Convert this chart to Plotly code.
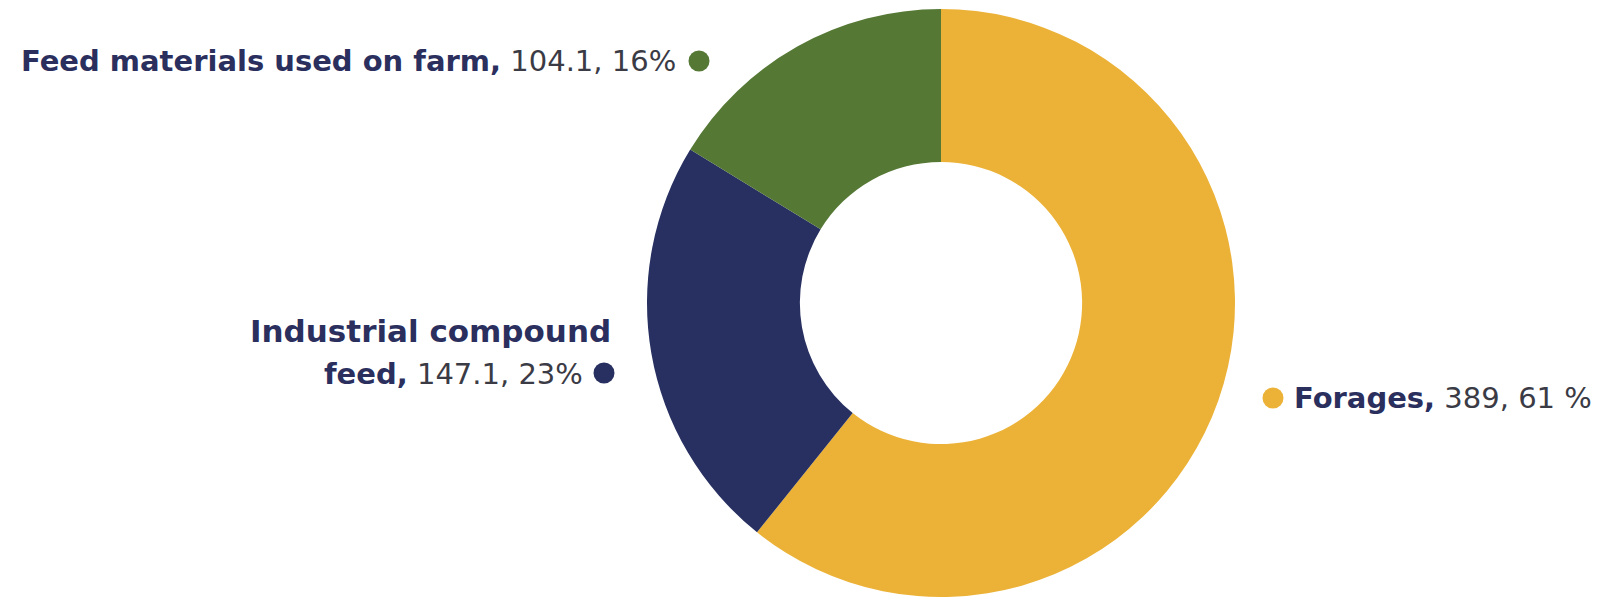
import plotly.graph_objects as go

categories = ["Forages", "Industrial compound feed", "Feed materials used on farm"]
values = [389, 147.1, 104.1]
percents = ["61 %", "23%", "16%"]
colors = ["#ECB237", "#273060", "#557935"]

W, H = 1601, 597
NAVY = "#2A2F5E"
GREY = "#3B3B45"
FONT = "DejaVu Sans"
FS = 29

fig = go.Figure()
fig.add_trace(go.Pie(
    labels=categories, values=values, hole=0.48, sort=False,
    direction="clockwise", rotation=0, textinfo="none",
    marker=dict(colors=colors, line=dict(width=0)),
    domain=dict(x=[647 / W, 1235 / W], y=[0, 588 / H]),
    showlegend=False, hoverinfo="label+value+percent",
))

def px(x):
    return x / W

def py(y):
    return 1 - y / H

def val_txt(i):
    return f"{values[i]:g}, {percents[i]}"

annotations = [
    dict(x=px(678), y=py(61), xanchor="right", yanchor="middle",
         text=f"<b>Feed materials used on farm,</b> <span style='color:{GREY}'>{val_txt(2)}</span>"),
    dict(x=px(613), y=py(331), xanchor="right", yanchor="middle",
         text="<b>Industrial compound</b>", font=dict(family=FONT, size=31, color=NAVY)),
    dict(x=px(585), y=py(374), xanchor="right", yanchor="middle",
         text=f"<b>feed,</b> <span style='color:{GREY}'>{val_txt(1)}</span>"),
    dict(x=px(1292), y=py(398), xanchor="left", yanchor="middle",
         text=f"<b>Forages,</b> <span style='color:{GREY}'>{val_txt(0)}</span>"),
]
for a in annotations:
    a.update(xref="paper", yref="paper", showarrow=False)
    a.setdefault("font", dict(family=FONT, size=FS, color=NAVY))
fig.update_layout(annotations=annotations)

dots = [(1273, 398, colors[0]), (604, 373, colors[1]), (699, 61, colors[2])]
R = 10.5
for cx, cy, c in dots:
    fig.add_shape(type="circle", xref="paper", yref="paper",
                  x0=px(cx - R), x1=px(cx + R), y0=py(cy + R), y1=py(cy - R),
                  fillcolor=c, line=dict(width=0))

fig.update_layout(width=W, height=H, margin=dict(l=0, r=0, t=0, b=0),
                  paper_bgcolor="white", plot_bgcolor="white")
fig.write_html("out.html", config={"displayModeBar": False},
               post_script="document.body.style.margin='0';document.body.style.overflow='hidden';")
